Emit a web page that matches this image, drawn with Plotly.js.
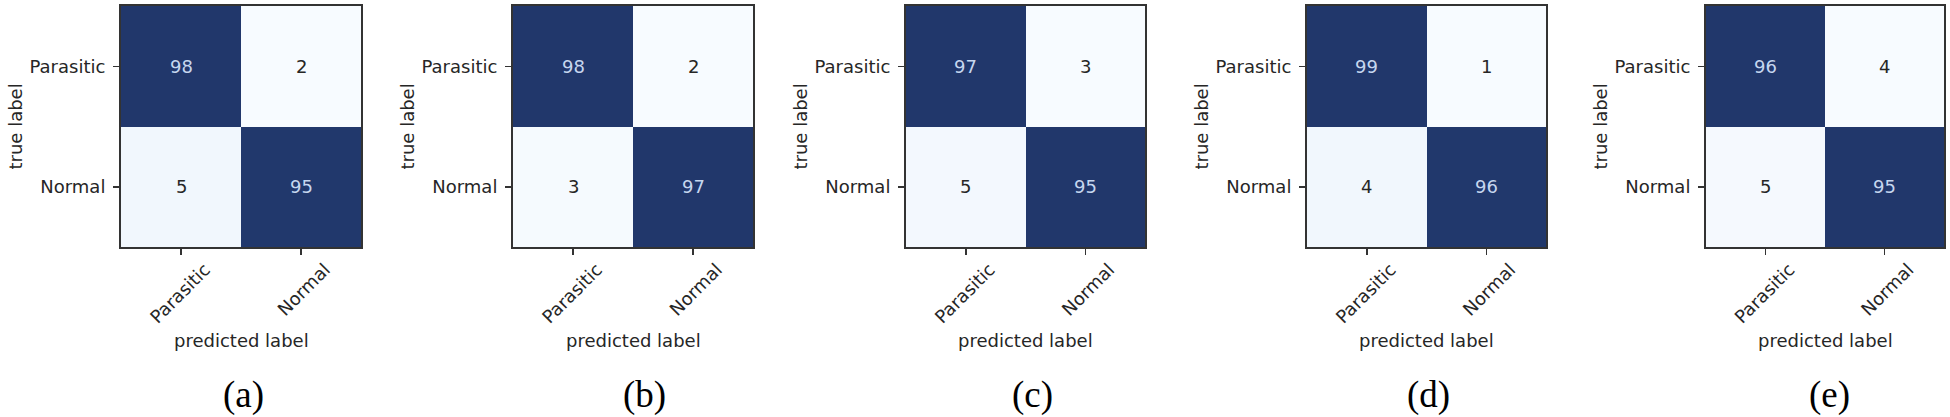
<!DOCTYPE html>
<html>
<head>
<meta charset="utf-8">
<script src="https://cdn.plot.ly/plotly-3.0.1.min.js"></script>
<style>
  html, body { margin: 0; padding: 0; background: #fff; }
  #main { width: 1950px; height: 417px; }
</style>
</head>
<body>
<div id="main"></div>
<script>
const CLASSES = ["Parasitic", "Normal"];
const PANEL_LABELS = ["(a)", "(b)", "(c)", "(d)", "(e)"];

// confusion matrices, rows = true label, cols = predicted label
const cmA = [[98, 2], [5, 95]];
const cmB = [[98, 2], [3, 97]];
const cmC = [[97, 3], [5, 95]];
const cmD = [[99, 1], [4, 96]];
const cmE = [[96, 4], [5, 95]];
const MATRICES = [cmA, cmB, cmC, cmD, cmE];

// pixel boxes of each heatmap (left, right) in the 1950 wide page
const W = 1950, H = 417;
const PANEL_X = [[121, 361], [513, 753], [906, 1145], [1307, 1546], [1706, 1944]];
const PANEL_TOP = 6, PANEL_BOTTOM = 247;
const LABEL_CX = [243, 644, 1032, 1428, 1829];

const BLUES = [
    [0, "#f7fbff"], [0.1, "#e3edf8"], [0.5, "#7095c6"], [0.9, "#22396d"], [1, "#21376b"],
];
const FONT = "DejaVu Sans";
const FS = 18;

const traces = [];
const layout = {
    width: W,
    height: H,
    margin: { l: 0, r: 0, t: 0, b: 0 },
    paper_bgcolor: "#ffffff",
    plot_bgcolor: "#ffffff",
    showlegend: false,
    font: { family: FONT, size: FS, color: "#262626" },
    annotations: [],
};

MATRICES.forEach((cm, i) => {
    const n = i === 0 ? "" : String(i + 1);
    const flat = cm.flat();
    const zmin = Math.min(...flat), zmax = Math.max(...flat);
    const thresh = (zmin + zmax) / 2;

    traces.push({
        type: "heatmap",
        x: CLASSES,
        y: CLASSES,
        z: cm,
        zmin: zmin,
        zmax: zmax,
        colorscale: BLUES,
        showscale: false,
        hoverinfo: "z",
        xaxis: "x" + n,
        yaxis: "y" + n,
    });

    const [x0, x1] = PANEL_X[i];
    const axisCommon = {
        showline: true,
        mirror: true,
        linecolor: "#333333",
        linewidth: 2,
        showgrid: false,
        zeroline: false,
        ticks: "outside",
        ticklen: 6,
        tickwidth: 1.5,
        tickcolor: "#333333",
        tickfont: { family: FONT, size: FS, color: "#262626" },
        fixedrange: true,
    };
    layout["xaxis" + n] = Object.assign({}, axisCommon, {
        domain: [x0 / W, x1 / W],
        anchor: "y" + n,
        tickangle: -45,
        ticklabelshift: 24,
        ticklabelstandoff: -3,
    });
    layout["yaxis" + n] = Object.assign({}, axisCommon, {
        domain: [1 - PANEL_BOTTOM / H, 1 - PANEL_TOP / H],
        anchor: "x" + n,
        autorange: "reversed",
        ticklabelstandoff: 4,
    });

    // cell counts
    cm.forEach((row, r) => {
        row.forEach((v, c) => {
            layout.annotations.push({
                xref: "x" + n, yref: "y" + n,
                x: CLASSES[c], y: CLASSES[r],
                text: String(v),
                showarrow: false,
                font: { family: FONT, size: FS, color: v > thresh ? "#c6d6ef" : "#262626" },
            });
        });
    });

    // axis titles
    layout.annotations.push({
        xref: "paper", yref: "paper",
        x: (x0 + x1) / 2 / W, y: 1 - 340 / H,
        text: "predicted label",
        showarrow: false,
        xanchor: "center", yanchor: "middle",
        font: { family: FONT, size: FS, color: "#262626" },
    });
    layout.annotations.push({
        xref: "paper", yref: "paper",
        x: (x0 - 106) / W, y: 1 - ((PANEL_TOP + PANEL_BOTTOM) / 2) / H,
        text: "true label",
        textangle: -90,
        showarrow: false,
        xanchor: "center", yanchor: "middle",
        font: { family: FONT, size: FS, color: "#262626" },
    });
    // panel letter
    layout.annotations.push({
        xref: "paper", yref: "paper",
        x: LABEL_CX[i] / W, y: 1 - 395 / H,
        text: PANEL_LABELS[i],
        showarrow: false,
        xanchor: "center", yanchor: "middle",
        font: { family: "Liberation Serif", size: 37, color: "#000000" },
    });
});

Plotly.newPlot("main", traces, layout, { displayModeBar: false, staticPlot: true });
</script>
</body>
</html>
